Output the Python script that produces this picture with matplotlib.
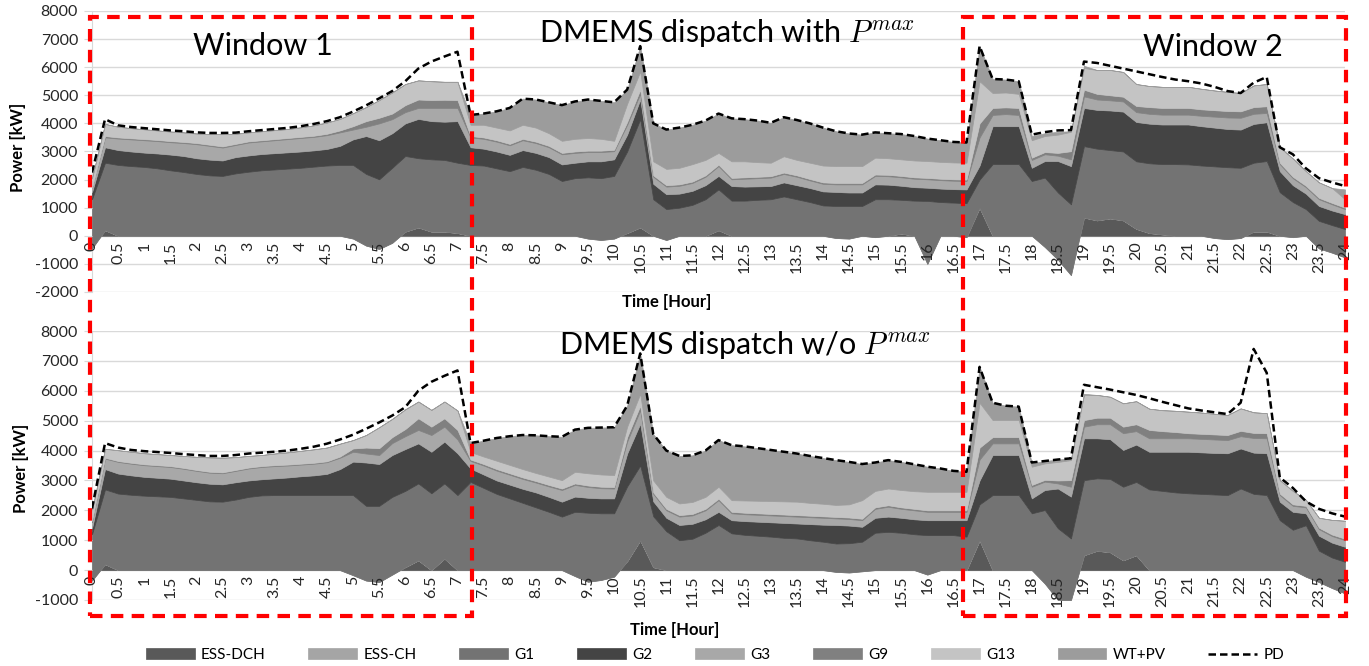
import numpy as np
import matplotlib
matplotlib.use('Agg')
import matplotlib.pyplot as plt
from matplotlib.patches import Rectangle

# 15-minute categories, 0 .. 24 h
hours = np.linspace(0, 24, 97)

names = ['ESS-DCH', 'ESS-CH', 'G1', 'G2', 'G3', 'G9', 'G13', 'WT+PV']
colors = ['#595959', '#a5a5a5', '#737373', '#444444', '#a8a8a8', '#808080', '#c4c4c4', '#9c9c9c']

# ---- dispatch with Pmax (kW), one row = 2 hours ----
top_dch = [0, 200, 0, 0, 0, 0, 0, 0,
           0, 0, 0, 0, 0, 0, 0, 0,
           0, 0, 0, 0, 0, 0, 0, 0,
           150, 300, 150, 150, 100, 0, 0, 0,
           0, 0, 0, 0, 0, 0, 0, 0,
           0, 100, 300, 0, 0, 0, 0, 0,
           200, 0, 0, 0, 0, 0, 0, 0,
           0, 0, 0, 0, 0, 0, 80, 0,
           0, 0, 0, 0, 1000, 0, 0, 0,
           0, 0, 0, 0, 650, 550, 620, 550,
           250, 100, 50, 0, 0, 0, 0, 0,
           0, 150, 150, 0, 0, 0, 0, 0,
           0]
top_ch = [-450, 0, 0, 0, 0, 0, 0, 0,
          0, 0, 0, 0, 0, 0, 0, 0,
          0, 0, 0, 0, -100, -350, -470, -250,
          0, 0, 0, 0, 0, 0, 0, 0,
          0, 0, 0, 0, 0, 0, -100, -150,
          -100, 0, 0, 0, -150, 0, 0, 0,
          0, 0, 0, 0, 0, 0, 0, 0,
          0, -80, -100, 0, -50, 0, 0, 0,
          -1000, 0, 0, -50, 0, 0, 0, 0,
          0, -400, -850, -1400, 0, 0, 0, 0,
          0, 0, 0, 0, 0, 0, -80, -120,
          -80, 0, 0, 0, -50, 0, -450, -600,
          -770]
top_g1 = [1750, 2400, 2520, 2480, 2450, 2400, 2330, 2270,
          2200, 2150, 2130, 2220, 2280, 2330, 2360, 2390,
          2420, 2460, 2500, 2520, 2620, 2550, 2480, 2670,
          2690, 2460, 2570, 2550, 2500, 2520, 2500, 2400,
          2300, 2450, 2350, 2200, 1950, 2050, 2180, 2200,
          2230, 2900, 3850, 1300, 1100, 1000, 1100, 1300,
          1450, 1250, 1250, 1280, 1300, 1400, 1300, 1200,
          1080, 1140, 1160, 1060, 1350, 1300, 1200, 1250,
          2240, 1200, 1180, 1210, 1000, 2550, 2550, 2550,
          1950, 2470, 2390, 2520, 2540, 2550, 2430, 2450,
          2400, 2480, 2500, 2550, 2540, 2500, 2550, 2560,
          2500, 2450, 2510, 1550, 1250, 950, 980, 980,
          1010]
top_g2 = [250, 550, 530, 520, 510, 530, 560, 570,
          560, 560, 550, 580, 580, 580, 580, 580,
          580, 580, 590, 680, 910, 1350, 1390, 1230,
          1160, 1400, 1360, 1360, 1480, 630, 600, 600,
          580, 600, 600, 600, 590, 550, 570, 600,
          590, 600, 700, 550, 530, 500, 500, 500,
          480, 520, 500, 480, 470, 500, 500, 500,
          500, 500, 480, 480, 530, 520, 500, 480,
          470, 480, 480, 490, 500, 1350, 1350, 1350,
          470, 590, 1120, 1360, 1360, 1380, 1410, 1420,
          1400, 1410, 1410, 1410, 1420, 1400, 1380, 1360,
          1360, 1380, 1380, 750, 600, 550, 530, 520,
          530]
top_g3 = [150, 350, 410, 430, 440, 440, 440, 460,
          500, 490, 460, 430, 460, 450, 460, 470,
          480, 480, 490, 480, 350, 330, 600, 500,
          400, 390, 470, 490, 470, 350, 350, 350,
          340, 350, 350, 350, 360, 350, 330, 330,
          290, 350, 200, 250, 270, 280, 280, 300,
          350, 240, 280, 290, 300, 300, 300, 270,
          270, 270, 290, 290, 300, 300, 300, 300,
          300, 300, 300, 300, 1000, 400, 430, 400,
          280, 240, 190, 240, 410, 370, 360, 360,
          350, 350, 350, 350, 350, 370, 390, 410,
          420, 360, 330, 250, 250, 230, 240, 220,
          180]
top_g9 = [0, 50, 40, 40, 40, 40, 40, 40,
          40, 40, 40, 40, 40, 40, 40, 40,
          40, 40, 50, 70, 120, 200, 200, 200,
          250, 300, 280, 290, 280, 50, 50, 50,
          50, 50, 50, 50, 50, 50, 50, 50,
          50, 100, 150, 50, 50, 50, 50, 50,
          50, 50, 50, 50, 50, 50, 50, 50,
          50, 50, 50, 50, 50, 50, 50, 50,
          50, 50, 50, 50, 500, 250, 240, 250,
          80, 80, 100, 290, 240, 200, 180, 170,
          220, 240, 240, 240, 240, 230, 230, 230,
          230, 240, 240, 50, 50, 50, 50, 50,
          50]
top_g13 = [350, 430, 380, 360, 350, 340, 340, 340,
           340, 380, 440, 360, 320, 320, 320, 320,
           340, 370, 400, 410, 460, 500, 630, 750,
           750, 680, 670, 640, 650, 400, 450, 450,
           480, 500, 500, 450, 430, 450, 450, 420,
           320, 650, 650, 500, 580, 590, 620, 550,
           420, 590, 570, 520, 480, 580, 550, 580,
           600, 600, 600, 600, 600, 590, 590, 600,
           600, 600, 600, 600, 1500, 530, 530, 500,
           620, 570, 650, 690, 770, 850, 900, 880,
           780, 750, 750, 750, 750, 730, 700, 680,
           650, 770, 790, 550, 650, 520, 550, 530,
           300]
top_wt = [0, 0, 0, 0, 0, 0, 0, 0,
          0, 0, 0, 0, 0, 0, 0, 0,
          0, 0, 0, 0, 0, 0, 0, 0,
          0, 0, 0, 0, 0, 350, 400, 580,
          800, 930, 1000, 1100, 1270, 1330, 1370, 1350,
          1370, 500, 900, 1350, 1400, 1430, 1400, 1400,
          1400, 1530, 1500, 1480, 1420, 1390, 1420, 1400,
          1350, 1240, 1160, 1120, 900, 890, 900, 870,
          800, 770, 730, 720, 1250, 500, 460, 450,
          150, 100, 100, 20, 80, 0, 0, 0,
          0, 0, 0, 0, 0, 0, 0, 0,
          0, 0, 0, 0, 0, 0, 0, 0,
          350]
top_pd = [2250, 4150, 3930, 3870, 3830, 3790, 3750, 3720,
          3680, 3660, 3660, 3670, 3720, 3760, 3800, 3840,
          3900, 3980, 4080, 4220, 4420, 4640, 4890, 5150,
          5500, 5950, 6200, 6380, 6550, 4300, 4350, 4430,
          4550, 4880, 4850, 4750, 4650, 4780, 4850, 4800,
          4750, 5200, 6750, 4000, 3780, 3850, 3950, 4100,
          4350, 4180, 4150, 4100, 4020, 4220, 4120, 4000,
          3850, 3720, 3640, 3600, 3680, 3650, 3620, 3550,
          3460, 3400, 3340, 3320, 6750, 5580, 5560, 5500,
          3600, 3690, 3750, 3760, 6200, 6150, 6050, 5950,
          5850, 5750, 5650, 5560, 5500, 5420, 5300, 5150,
          5080, 5450, 5650, 3150, 2900, 2400, 2050, 1900,
          1770]

# ---- dispatch w/o Pmax (kW) ----
bot_dch = [0, 200, 0, 0, 0, 0, 0, 0,
           0, 0, 0, 0, 0, 0, 0, 0,
           0, 0, 0, 0, 0, 0, 0, 0,
           100, 330, 0, 390, 0, 0, 0, 0,
           0, 0, 0, 0, 0, 0, 0, 0,
           0, 300, 1000, 100, 0, 0, 0, 0,
           0, 0, 0, 0, 0, 0, 0, 0,
           0, 0, 0, 0, 0, 0, 0, 0,
           0, 0, 0, 0, 1000, 0, 0, 0,
           0, 0, 0, 0, 500, 650, 600, 330,
           500, 0, 0, 0, 0, 0, 0, 0,
           0, 0, 0, 0, 0, 0, 0, 0,
           0]
bot_ch = [-350, 0, 0, 0, 0, 0, 0, 0,
          0, 0, 0, 0, 0, 0, 0, 0,
          0, 0, 0, 0, -170, -350, -400, -150,
          0, 0, 0, 0, 0, 0, 0, 0,
          0, 0, 0, 0, 0, -200, -390, -330,
          -220, 0, 0, 0, 0, 0, 0, 0,
          0, 0, 0, 0, 0, 0, 0, 0,
          0, -60, -80, -40, 0, 0, 0, 0,
          -150, 0, 0, 0, 0, 0, 0, 0,
          0, -450, -1000, -1000, 0, 0, 0, 0,
          0, 0, 0, 0, 0, 0, 0, 0,
          0, 0, 0, 0, 0, -220, -400, -600,
          -780]
bot_g1 = [1550, 2500, 2560, 2520, 2490, 2470, 2450, 2400,
          2350, 2300, 2290, 2360, 2450, 2500, 2510, 2510,
          2510, 2510, 2510, 2510, 2680, 2500, 2550, 2600,
          2550, 2570, 2570, 2510, 2510, 2950, 2750, 2550,
          2400, 2250, 2100, 1950, 1790, 2150, 2310, 2230,
          2120, 2500, 2500, 1700, 1300, 1000, 1050, 1250,
          1510, 1230, 1180, 1150, 1120, 1080, 1060, 1000,
          950, 950, 980, 990, 1250, 1280, 1250, 1200,
          1320, 1170, 1170, 1120, 1200, 2510, 2510, 2510,
          1900, 2460, 2400, 2060, 2510, 2420, 2450, 2460,
          2450, 2700, 2650, 2600, 2570, 2550, 2530, 2510,
          2730, 2550, 2510, 1670, 1350, 1720, 1050, 1020,
          1060]
bot_g2 = [200, 680, 670, 650, 630, 620, 610, 600,
          590, 590, 580, 580, 550, 540, 560, 590,
          630, 660, 710, 870, 1120, 1450, 1400, 1400,
          1400, 1340, 1390, 1400, 1400, 450, 450, 450,
          460, 470, 500, 500, 500, 510, 500, 500,
          500, 1100, 1400, 500, 450, 510, 500, 450,
          440, 440, 460, 470, 480, 500, 500, 540,
          570, 620, 590, 500, 500, 510, 500, 500,
          500, 500, 500, 550, 800, 1340, 1340, 1340,
          500, 670, 1330, 1400, 1400, 1340, 1330, 1230,
          1250, 1260, 1310, 1360, 1390, 1390, 1390, 1400,
          1340, 1380, 1400, 620, 600, 400, 500, 500,
          500]
bot_g3 = [200, 350, 390, 390, 390, 390, 390, 390,
          380, 370, 370, 380, 400, 410, 410, 400,
          390, 390, 390, 380, 330, 300, 300, 400,
          430, 450, 560, 500, 460, 250, 300, 330,
          330, 330, 330, 350, 390, 390, 360, 340,
          330, 400, 450, 250, 250, 280, 280, 300,
          390, 230, 230, 230, 230, 230, 230, 230,
          230, 220, 220, 220, 300, 330, 300, 300,
          280, 280, 280, 280, 700, 390, 390, 390,
          390, 280, 170, 330, 390, 470, 500, 560,
          450, 450, 450, 450, 450, 450, 450, 440,
          410, 490, 500, 220, 200, 200, 220, 220,
          220]
bot_g9 = [50, 30, 30, 30, 30, 30, 30, 30,
          30, 30, 30, 30, 30, 30, 30, 30,
          30, 30, 30, 40, 110, 200, 230, 200,
          240, 390, 280, 280, 320, 50, 50, 50,
          50, 50, 50, 50, 50, 50, 50, 50,
          50, 150, 150, 50, 50, 50, 50, 50,
          50, 50, 50, 50, 50, 50, 50, 50,
          50, 50, 50, 50, 50, 50, 50, 50,
          50, 50, 50, 50, 400, 210, 210, 210,
          60, 60, 100, 220, 220, 220, 220, 220,
          230, 280, 240, 210, 170, 170, 170, 170,
          180, 170, 170, 50, 50, 50, 50, 50,
          50]
bot_g13 = [350, 300, 360, 370, 370, 370, 370, 400,
           440, 480, 490, 430, 390, 370, 390, 410,
           430, 450, 460, 430, 280, 420, 700, 610,
           660, 560, 560, 560, 650, 250, 250, 280,
           280, 280, 270, 280, 280, 390, 410, 410,
           400, 350, 400, 400, 400, 390, 400, 400,
           400, 390, 410, 420, 430, 440, 450, 430,
           420, 400, 440, 620, 550, 560, 580, 590,
           620, 620, 620, 620, 1500, 570, 570, 570,
           610, 550, 620, 670, 840, 760, 700, 780,
           770, 710, 700, 710, 720, 710, 690, 670,
           750, 690, 670, 450, 450, 200, 330, 490,
           600]
bot_wt = [0, 0, 0, 0, 0, 0, 0, 0,
          0, 0, 0, 0, 0, 0, 0, 0,
          0, 0, 0, 0, 0, 0, 0, 0,
          0, 0, 0, 0, 0, 300, 530, 760,
          960, 1140, 1260, 1350, 1450, 1410, 1520, 1570,
          1600, 700, 1350, 1550, 1550, 1590, 1560, 1550,
          1560, 1840, 1810, 1760, 1710, 1660, 1610, 1570,
          1530, 1500, 1420, 1210, 950, 950, 940, 900,
          840, 780, 700, 670, 1200, 580, 480, 450,
          110, 80, 80, 60, 40, 0, 0, 0,
          0, 0, 0, 0, 0, 0, 0, 0,
          0, 0, 0, 0, 0, 0, 0, 0,
          0]
bot_pd = [2060, 4250, 4100, 4020, 3980, 3950, 3920, 3880,
          3850, 3820, 3820, 3850, 3900, 3930, 3960, 4000,
          4060, 4130, 4230, 4370, 4530, 4730, 4940, 5170,
          5450, 6000, 6300, 6500, 6680, 4250, 4330, 4420,
          4480, 4520, 4510, 4480, 4460, 4700, 4760, 4770,
          4780, 5500, 7250, 4550, 4000, 3820, 3840, 4000,
          4350, 4180, 4140, 4080, 4020, 3960, 3900, 3820,
          3750, 3680, 3620, 3550, 3600, 3680, 3620, 3540,
          3460, 3400, 3320, 3290, 6800, 5600, 5500, 5470,
          3600, 3650, 3700, 3740, 6200, 6120, 6040, 5950,
          5860, 5750, 5630, 5520, 5410, 5340, 5280, 5220,
          5600, 7400, 6600, 3100, 2750, 2300, 2050, 1900,
          1790]

plt.rcParams['font.family'] = ['Lato', 'DejaVu Sans']
plt.rcParams['mathtext.fontset'] = 'cm'
plt.rcParams['axes.unicode_minus'] = False

fig = plt.figure(figsize=(13.69, 6.66), dpi=100)
ax1 = fig.add_axes([0.0672, 0.5616, 0.9153, 0.4219])
ax2 = fig.add_axes([0.0672, 0.0991, 0.9153, 0.4039])


def draw_panel(ax, layers, pd_vals, ymin):
    polys = ax.stackplot(hours, *layers, colors=colors, labels=names)
    for p in polys:
        p.set_edgecolor(p.get_facecolor())
        p.set_linewidth(0.5)
    line, = ax.plot(hours, pd_vals, color='black', lw=1.8, ls=(0, (3, 1.6)), label='PD')
    ax.set_xlim(0, 24)
    ax.set_ylim(ymin, 8000)
    # move the category axis to y=0 first (this resets the tick labels)
    for s in ['top', 'right']:
        ax.spines[s].set_visible(False)
    ax.spines['left'].set_color('#d9d9d9')
    ax.spines['bottom'].set_color('#d9d9d9')
    ax.spines['bottom'].set_position(('data', 0))
    ax.spines['bottom'].set_zorder(0.5)
    ax.spines['left'].set_zorder(0.5)
    yt = np.arange(ymin, 8001, 1000)
    ax.set_yticks(yt)
    # gridlines behind the areas, tick labels stay on top of them
    for y in yt:
        ax.axhline(y, color='#d9d9d9', lw=1, zorder=0)
    ticks = np.arange(0, 24.01, 0.5)
    ax.set_xticks(ticks)
    ax.set_xticklabels([f'{v:g}' for v in ticks])
    ax.tick_params(axis='y', length=6, color='#d9d9d9', pad=4, labelsize=11.5, labelcolor='#262626')
    ax.tick_params(axis='x', length=0, pad=4, labelsize=11.5, labelcolor='#262626', labelrotation=90)
    return polys, line


polys, pd_line = draw_panel(ax1, [top_dch, top_ch, top_g1, top_g2, top_g3, top_g9, top_g13, top_wt],
                            top_pd, -2000)
draw_panel(ax2, [bot_dch, bot_ch, bot_g1, bot_g2, bot_g3, bot_g9, bot_g13, bot_wt], bot_pd, -1000)

# titles and axis titles
fig.text(0.531, 0.950, 'DMEMS dispatch with $P^{max}$', fontsize=22, ha='center', va='center')
fig.text(0.544, 0.482, 'DMEMS dispatch w/o $P^{max}$', fontsize=22, ha='center', va='center')
fig.text(0.192, 0.931, 'Window 1', fontsize=22, ha='center', va='center')
fig.text(0.886, 0.929, 'Window 2', fontsize=22, ha='center', va='center')
fig.text(0.0135, 0.778, 'Power [kW]', fontsize=12, fontweight='bold', rotation=90, ha='center', va='center')
fig.text(0.0150, 0.297, 'Power [kW]', fontsize=12, fontweight='bold', rotation=90, ha='center', va='center')
fig.text(0.487, 0.547, 'Time [Hour]', fontsize=12, fontweight='bold', ha='center', va='center')
fig.text(0.493, 0.054, 'Time [Hour]', fontsize=12, fontweight='bold', ha='center', va='center')

# red dashed windows
for x0, x1 in [(90, 472), (963, 1346)]:
    r = Rectangle((x0 / 1369, 1 - 616 / 666), (x1 - x0) / 1369, 599 / 666, transform=fig.transFigure,
                  fill=False, ec='red', lw=3, ls=(0, (3, 2)), zorder=10)
    fig.add_artist(r)

fig.legend(list(polys) + [pd_line], names + ['PD'], loc='center', bbox_to_anchor=(715 / 1369, 1 - 655 / 666),
           ncol=9, frameon=False, fontsize=11, handlelength=3.2, handleheight=0.7, handletextpad=0.4,
           columnspacing=2.8)

fig.savefig('out.png', dpi=100)
